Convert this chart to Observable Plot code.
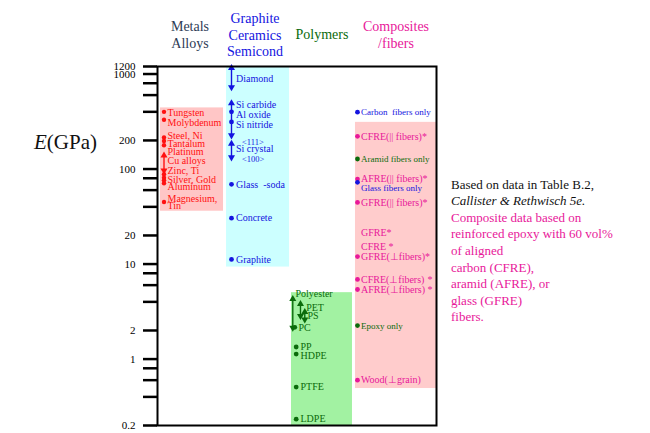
<!DOCTYPE html>
<html><head><meta charset="utf-8">
<script src="https://cdn.jsdelivr.net/npm/d3@7"></script>
<script src="https://cdn.jsdelivr.net/npm/@observablehq/plot@0.6"></script>
<style>
body{margin:0;background:#fff;}
#wrap{position:relative;width:650px;height:433px;font-family:"Liberation Serif","Times New Roman",serif;overflow:hidden;}
#wrap svg, #wrap svg text{font-family:"Liberation Serif","Times New Roman",serif !important;}
.abs{position:absolute;white-space:pre;}
.hdr{font-size:14px;line-height:16.5px;text-align:center;transform:translate(-50%,0);}
</style></head><body><div id="wrap"></div>
<script>
// ---------- data ----------
const tickValues = [0.2,0.4,0.6,0.8,1,2,4,6,8,10,20,40,60,80,100,200,400,600,800,1000,1200];
const tickLabels = ["0.2","0.4","0.6","0.8","1","2","4","6","8","10","20","40","60","80","100","200","400","600","800","1000","1200"];

const groupNames = ["Metals Alloys","Graphite Ceramics Semicond","Polymers","Composites /fibers"];
const groupLowE  = [36, 9.3, 0.2, 0.49];
const groupHighE = [440, 1200, 5.0, 310];

const metalLabels = ["Tungsten","Molybdenum","Steel, Ni","Tantalum","Platinum","Cu alloys","Zinc, Ti","Silver, Gold","Aluminum","Magnesium,","Tin"];
const metalLabelE = [390,306,225,184,152,121,96,78,65,49,41];
const metalDotE   = [400,330,215,197,178,88,81,76,71,45];
const metalRangeLowE  = [93];
const metalRangeHighE = [144];

const ceramicLabels = ["Diamond","Si carbide","Al oxide","Si nitride","<111>","Si crystal","<100>","Glass  -soda","Concrete","Graphite"];
const ceramicLabelE = [891,478,374,294,193,162,127,69,30.4,11.2];
const ceramicDotE   = [400,313,69,30.4,11.2];
const ceramicRangeLowE  = [700,218,128];
const ceramicRangeHighE = [1200,510,191];

const polymerLabels = ["Polyester","PET","PS","PC","PP","HDPE","PTFE","LDPE"];
const polymerLabelE = [4.82,3.49,2.85,2.11,1.36,1.08,0.507,0.233];
const polymerDotE   = [2.16,1.34,1.13,0.507,0.233];
const polymerRangeLowE  = [2.06,2.74,2.52];
const polymerRangeHighE = [4.45,3.94,3.24];

const compositeLabels = ["Carbon  fibers only","CFRE(|| fibers)*","Aramid fibers only","AFRE(|| fibers)*","Glass fibers only","GFRE(|| fibers)*","GFRE*","CFRE *","GFRE(\u22A5fibers)*","CFRE(\u22A5fibers)","AFRE(\u22A5fibers)","Epoxy only","Wood(\u22A5grain)"];
const compositeLabelE = [397,221,127.6,78.4,62.6,44.5,21.5,15.1,12.0,6.9,5.4,2.25,0.60];
const compositeKind   = ["fiber","composite","matrix","composite","fiber","composite","composite","composite","composite","composite","composite","matrix","composite"];
const compositeDotE    = [397,221,127.6,78.4,72.5,44.5,12.0,6.9,5.4,2.25,0.60];
const compositeDotKind = ["fiber","composite","matrix","composite","fiber","composite","composite","composite","composite","matrix","composite"];
const compositeStarE = [6.9,5.4];

// ---------- layout / style ----------
const FONT = "'Liberation Serif','Times New Roman',serif";
const RED="#ff1010", BLUE="#1414e0", GREEN="#0b6b0b", MAG="#e8189a";
const kindColor = {fiber:BLUE, composite:MAG, matrix:GREEN};
const groupFill = ["#ffc6c6","#ccffff","#a2f2a2","#ffcccc"];
const XMAX = 4.26, UNIT = 279/XMAX;           // px per column unit
const off = (col, px) => col + px/UNIT;
const rectSpan = [[0.046,1.008],[1.054,2.016],[2.046,2.977],[3.023,4.26]];
const metalDotPx = 6.5, metalLabelPx = 10;
const ceramicDotPx = 8.5;
const ceramicLabelPx = [13,13,13,13,19,13,19,13,13,13];
const ceramicLabelSize = [10,10,10,10,8.5,10,8.5,10,10,10];
const polyLabelPx = [7,17.7,19,10,12,12,12,12];
const polyDotPx = [6.3,7.7,7.7,7.7,7.7];
const polyRangePx = [4.3,12,16.3];
const compDotPx = 3.5, compLabelPx = 7;
const compLabelSize = [9,10,9,10,9,10,10,10,10,10,10,9,10];

const groupsData = groupNames.map((g,i)=>({g, i, lo:groupLowE[i], hi:groupHighE[i]}));
const lab = (names, es) => names.map((t,i)=>({t, e:es[i], i}));
const pts = es => es.map((e,i)=>({e,i}));
const rng = (lo,hi) => lo.map((l,i)=>({lo:l, hi:hi[i], i}));

// range arrow: line + triangle heads
function rangeMarks(data, xf, color){
  return [
    Plot.link(data,{x:xf, y1:"lo", y2:"hi", stroke:color, strokeWidth:1.4}),
    Plot.dot(data,{x:xf, y:"hi", symbol:"triangle", r:2.6, fill:color, stroke:"none", dy:1.5}),
    Plot.dot(data,{x:xf, y:"lo", symbol:"triangle", rotate:180, r:2.6, fill:color, stroke:"none", dy:-1.5})
  ];
}

const plot = Plot.plot({
  width:650, height:433,
  marginLeft:157, marginRight:214, marginTop:66, marginBottom:8,
  x:{domain:[0,XMAX], axis:null},
  y:{type:"log", domain:[0.2,1200], axis:null},
  style:{background:"transparent", fontFamily:FONT},
  marks:[
    Plot.rect(groupsData,{x1:d=>rectSpan[d.i][0], x2:d=>rectSpan[d.i][1], y1:"lo", y2:"hi", fill:d=>groupFill[d.i]}),
    // metals
    ...rangeMarks(rng(metalRangeLowE,metalRangeHighE), ()=>off(0,metalDotPx), RED),
    Plot.dot(pts(metalDotE),{x:()=>off(0,metalDotPx), y:"e", r:2.2, fill:RED}),
    Plot.text(lab(metalLabels,metalLabelE),{x:()=>off(0,metalLabelPx), y:"e", text:"t", textAnchor:"start", fill:RED, fontSize:10, fontFamily:FONT}),
    // ceramics
    ...rangeMarks(rng(ceramicRangeLowE,ceramicRangeHighE), ()=>off(1,ceramicDotPx), BLUE),
    Plot.dot(pts(ceramicDotE),{x:()=>off(1,ceramicDotPx), y:"e", r:2.4, fill:BLUE}),
    Plot.text(lab(ceramicLabels,ceramicLabelE),{x:d=>off(1,ceramicLabelPx[d.i]), y:"e", text:"t", textAnchor:"start", fill:BLUE, fontSize:d=>ceramicLabelSize[d.i], fontFamily:FONT}),
    // polymers
    ...rangeMarks(rng(polymerRangeLowE,polymerRangeHighE), d=>off(2,polyRangePx[d.i]), GREEN),
    Plot.dot(pts(polymerDotE),{x:d=>off(2,polyDotPx[d.i]), y:"e", r:2.4, fill:GREEN}),
    Plot.text(lab(polymerLabels,polymerLabelE),{x:d=>off(2,polyLabelPx[d.i]), y:"e", text:"t", textAnchor:"start", fill:GREEN, fontSize:10, fontFamily:FONT}),
    // composites
    Plot.dot(pts(compositeDotE),{x:()=>off(3,compDotPx), y:"e", r:2.4, fill:d=>kindColor[compositeDotKind[d.i]]}),
    Plot.text(lab(compositeLabels,compositeLabelE),{x:()=>off(3,compLabelPx), y:"e", text:"t", textAnchor:"start", fill:d=>kindColor[compositeKind[d.i]], fontSize:d=>compLabelSize[d.i], fontFamily:FONT}),
    Plot.text(pts(compositeStarE),{frameAnchor:"right", y:"e", text:()=>"*", dx:-4, textAnchor:"end", fill:MAG, fontSize:10, fontFamily:FONT}),
    // frame & axis
    Plot.frame({stroke:"black", strokeWidth:2}),
    Plot.axisY(tickValues,{anchor:"left", tickSize:14, tickPadding:8, strokeWidth:2.5, stroke:"black", fill:"black", fontSize:11, fontFamily:FONT, label:null, tickFormat:(d)=>tickLabels[tickValues.indexOf(d)]})
  ]
});

const wrap = document.getElementById("wrap");
plot.style.position="absolute"; plot.style.left="0"; plot.style.top="0";
wrap.appendChild(plot);

function addText(html, css, cls="abs"){
  const d=document.createElement("div"); d.className=cls; d.innerHTML=html;
  Object.assign(d.style, css); wrap.appendChild(d); return d;
}
// headers
const hdrLines = groupNames.map(g=>g.split(" "));
addText(hdrLines[0].join("<br>"), {left:"190px", top:"19px", color:"#2d3b55"}, "abs hdr");
addText(hdrLines[1].join("<br>"), {left:"255px", top:"11px", color:BLUE}, "abs hdr");
addText(hdrLines[2].join("<br>"), {left:"322px", top:"27px", color:GREEN}, "abs hdr");
addText(hdrLines[3].join("<br>"), {left:"396px", top:"19px", color:MAG}, "abs hdr");
// y label
addText("<i>E</i>(GPa)", {left:"34px", top:"130px", fontSize:"21px", color:"#111"});
// note
const noteLines = [
  ["Based on data in Table B.2,","#111",false],
  ["Callister & Rethwisch 5e.","#111",true],
  ["Composite data based on",MAG,false],
  ["reinforced epoxy with 60 vol%",MAG,false],
  ["of aligned",MAG,false],
  ["carbon (CFRE),",MAG,false],
  ["aramid (AFRE), or",MAG,false],
  ["glass (GFRE)",MAG,false],
  ["fibers.",MAG,false]
];
noteLines.forEach(([t,c,it],i)=>{
  const d=addText("", {left:"451px", top:(176.5+16.6*i)+"px", fontSize:"13px", lineHeight:"16.6px", color:c, fontStyle:it?"italic":"normal"});
  d.textContent=t;
});
</script>
</body></html>
